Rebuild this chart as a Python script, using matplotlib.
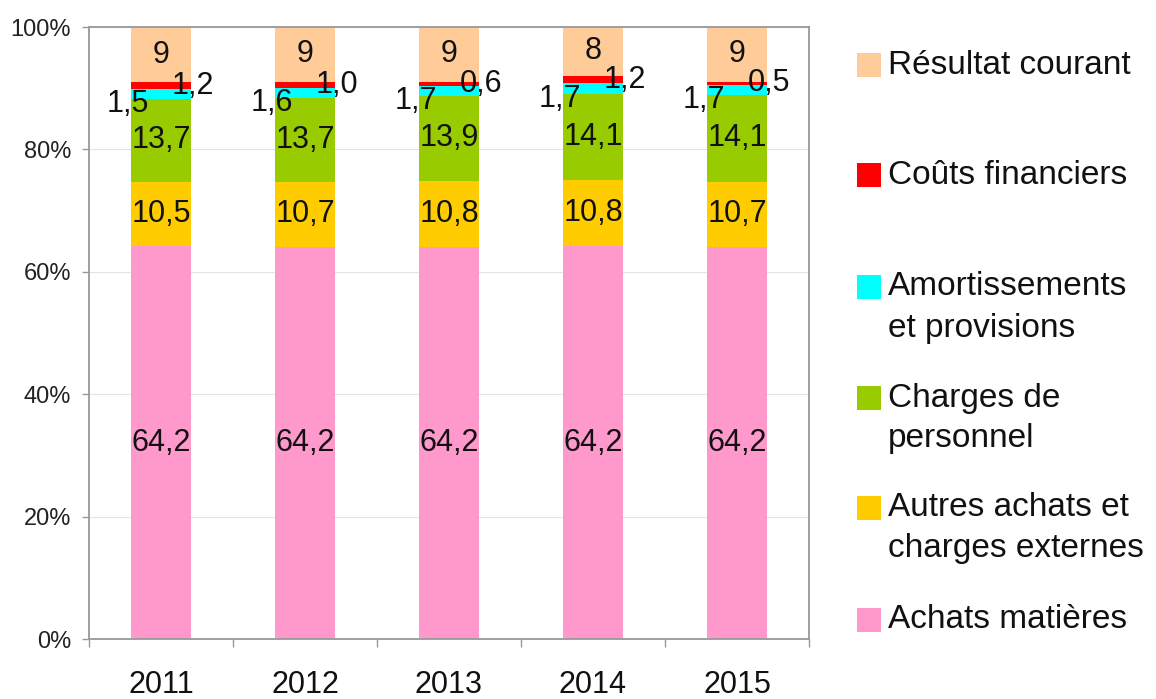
import numpy as np
import matplotlib
matplotlib.use("Agg")
import matplotlib.pyplot as plt
from matplotlib.patches import Rectangle

plt.rcParams['font.family'] = ['Liberation Sans', 'DejaVu Sans']

years = ["2011", "2012", "2013", "2014", "2015"]

# Cost structure, share of turnover (%) - bottom to top
achats_matieres = [64.2, 64.2, 64.2, 64.2, 64.2]
autres_achats = [10.5, 10.7, 10.8, 10.8, 10.7]
charges_personnel = [13.7, 13.7, 13.9, 14.1, 14.1]
amortissements = [1.5, 1.6, 1.7, 1.7, 1.7]
couts_financiers = [1.2, 1.0, 0.6, 1.2, 0.5]
resultat_courant = [9, 9, 9, 8, 9]

series_names = [
    "Achats matières",
    "Autres achats et\ncharges externes",
    "Charges de\npersonnel",
    "Amortissements\net provisions",
    "Coûts financiers",
    "Résultat courant",
]
series_values = [achats_matieres, autres_achats, charges_personnel,
                 amortissements, couts_financiers, resultat_courant]
series_colors = ["#FF99CC", "#FFCC00", "#99CC00", "#00FFFF", "#FF0000", "#FFCC99"]
series_fmt = ["{:.1f}", "{:.1f}", "{:.1f}", "{:.1f}", "{:.1f}", "{:.0f}"]
# label offsets in pixels (dx, dy) relative to segment centre
series_offsets = [(0, 0), (0, 0), (0, 0), (-33, -10), (32, 0), (0, 0)]

W, H = 1156, 699
fig = plt.figure(figsize=(W / 100, H / 100), dpi=100)
ax = fig.add_axes([89 / W, 1 - 639 / H, 720 / W, 612 / H])

x = np.arange(len(years))
data = np.array(series_values, dtype=float)
totals = data.sum(axis=0)
shares = data / totals * 100

bottom = np.zeros(len(years))
for name, raw, vals, color, fmt, (dx, dy) in zip(series_names, data, shares,
                                                  series_colors, series_fmt,
                                                  series_offsets):
    ax.bar(x, vals, width=0.42, bottom=bottom, color=color, zorder=2,
           linewidth=0)
    for xi, b, v, r in zip(x, bottom, vals, raw):
        ax.annotate(fmt.format(r).replace(".", ","), xy=(xi, b + v / 2),
                    xytext=(dx, dy), textcoords="offset pixels",
                    ha="center", va="center", fontsize=22, color="#111111",
                    zorder=3)
    bottom += vals

ax.set_xlim(-0.5, len(years) - 0.5)
ax.set_ylim(0, 100)

ax.set_yticks(np.arange(0, 101, 20))
ax.set_yticklabels([f"{v}%" for v in range(0, 101, 20)], fontsize=17,
                   color="#222222")
ax.tick_params(axis="y", length=5, width=1, color="#999999", pad=8)

ax.set_xticks(x)
ax.set_xticklabels(years, fontsize=22, color="#111111")
ax.set_xticks(np.arange(-0.5, len(years), 1.0), minor=True)
ax.tick_params(axis="x", which="major", length=0, pad=22)
ax.tick_params(axis="x", which="minor", length=6, width=1, color="#999999")

ax.yaxis.grid(True, color="#e4e4e4", linewidth=0.8, zorder=0)
ax.set_axisbelow(True)
for side in ["left", "bottom", "top", "right"]:
    ax.spines[side].set_color("#999999")
    ax.spines[side].set_linewidth(1.3)

# Legend drawn at the right, one entry every ~111 px, top entry first
entry_y = [620, 508, 398, 287, 175, 65]
line_gap = 41
for name, color, yc in zip(series_names, series_colors, entry_y):
    fig.patches.append(Rectangle((857 / W, 1 - (yc + 12) / H), 24 / W, 24 / H,
                                 transform=fig.transFigure, facecolor=color,
                                 edgecolor="none"))
    for i, line in enumerate(name.split("\n")):
        fig.text(888 / W, 1 - (yc + i * line_gap) / H, line, fontsize=24,
                 ha="left", va="center", color="#111111")

fig.savefig("out.png", dpi=100)
